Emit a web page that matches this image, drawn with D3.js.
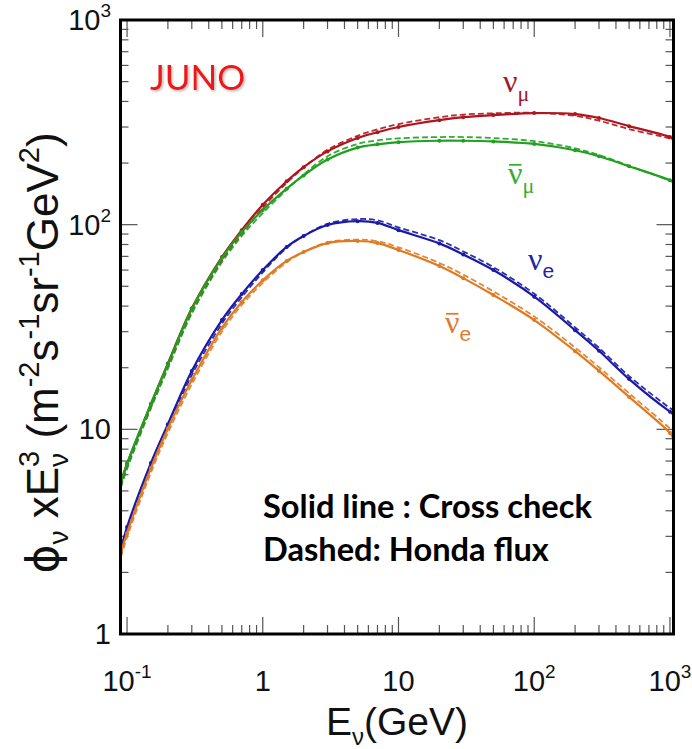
<!DOCTYPE html>
<html>
<head>
<meta charset="utf-8">
<script src="https://cdn.jsdelivr.net/npm/d3@7"></script>
<style>
  body { margin: 0; background: #fff; }
  svg { display: block; }
  text { white-space: pre; }
</style>
</head>
<body>
<svg id="chart" width="692" height="749"></svg>
<script>
// Neutrino energies (GeV) at which each flux is sampled
const energies = [0.09, 0.1, 0.15, 0.2, 0.3, 0.5, 0.7, 1, 1.5, 2, 3, 5, 7, 10, 20, 30, 50, 100, 200, 300, 500, 1000, 1060];

// phi x E^3 (m^-2 s^-1 sr^-1 GeV^2) — cross-check calculation (solid)
const numuCross    = [5.5, 6.8, 13.3, 21.0, 39, 69.5, 94, 125, 163, 191, 228, 265, 283, 300, 324, 335, 343, 351, 347, 332, 303, 268, 262];
const numubarCross = [5.47, 6.77, 13.3, 20.8, 38.7, 68.7, 92, 118, 150, 174, 208, 238, 247, 253, 257, 257, 255, 248, 231, 216, 193, 165, 162];
const nueCross     = [2.6, 3.33, 6.85, 10.6, 19.3, 34.2, 45.8, 60, 77.8, 88, 99.6, 104, 102, 94, 81, 71.5, 60, 44.5, 30.5, 24.2, 17.6, 12.2, 11.9];
const nuebarCross  = [2.49, 3.11, 6.47, 10.1, 17.4, 31.3, 41.9, 53.5, 66.5, 73.5, 81.3, 83.2, 81.3, 75.2, 62.8, 54.8, 45.3, 34.2, 24.1, 19.3, 14.4, 9.6, 9.07];

// Honda flux (dashed)
const numuHonda    = [5.25, 6.5, 12.8, 20.1, 37.2, 66.5, 90, 121, 160, 190, 232, 272, 292, 310, 335, 345, 350, 352, 340, 322, 293, 263, 258];
const numubarHonda = [5.2, 6.4, 12.7, 19.8, 36.8, 65.5, 88, 114, 148, 176, 216, 248, 258, 264, 268, 268, 265, 256, 236, 219, 194, 164, 161];
const nueHonda     = [2.48, 3.18, 6.5, 10.1, 18.4, 32.8, 44.2, 58.5, 77, 88, 101, 106.5, 105, 97, 84, 74, 62, 46, 31.5, 25, 18.2, 12.7, 12.4];
const nuebarHonda  = [2.38, 2.97, 6.15, 9.6, 16.6, 30, 40.5, 52, 65.5, 73.5, 82, 84.5, 83, 77.5, 65, 57, 47.2, 35.6, 25.1, 20.1, 15.0, 10.1, 9.7];

// Axis ticks and labels: [mantissa, exponent]
const xMajorTicks = [0.1, 1, 10, 100, 1000];
const xTickLabels = [["10", "-1"], ["1", ""], ["10", ""], ["10", "2"], ["10", "3"]];
const yMajorTicks = [1, 10, 100, 1000];
const yTickLabels = [["1", ""], ["10", ""], ["10", "2"], ["10", "3"]];

const series = [
  { key: "numu",    cross: numuCross,    honda: numuHonda,    color: "#b0141c" },
  { key: "numubar", cross: numubarCross, honda: numubarHonda, color: "#1fa01f" },
  { key: "nue",     cross: nueCross,     honda: nueHonda,     color: "#1a1aa6" },
  { key: "nuebar",  cross: nuebarCross,  honda: nuebarHonda,  color: "#e07a22" }
];

const svg = d3.select("#chart");
const plotLeft = 120.5, plotRight = 673.5, plotTop = 20, plotBottom = 634;

const x = d3.scaleLog().domain([0.0895, 1062]).range([plotLeft, plotRight]);
const y = d3.scaleLog().domain([1, 1000]).range([plotBottom, plotTop]);

const SANS = "'Liberation Sans', Arial, sans-serif";
const SERIF = "'Liberation Serif', 'Times New Roman', serif";

// Lay out a run of text pieces (with sub/superscripts) left to right.
function richText(parent, segs, opts) {
  const g = parent.append("g");
  let cursor = 0, prevStart = 0;
  segs.forEach(s => {
    const start = s.stack ? prevStart : cursor;
    const el = g.append("text")
      .attr("x", start).attr("y", s.dy || 0)
      .attr("font-size", s.size)
      .attr("font-family", s.family || opts.family)
      .attr("font-weight", s.weight || opts.weight || "normal")
      .attr("fill", opts.fill || "#000")
      .text(s.t);
    const w = el.node().getComputedTextLength();
    if (s.overline) {
      g.append("line")
        .attr("x1", start + 1).attr("x2", start + w - 1)
        .attr("y1", (s.dy || 0) - s.size * 0.6).attr("y2", (s.dy || 0) - s.size * 0.6)
        .attr("stroke", opts.fill || "#000").attr("stroke-width", 1.8);
    }
    cursor = Math.max(s.stack ? cursor : start, start + w);
    prevStart = start;
  });
  const width = cursor;
  let shift = 0;
  if (opts.anchor === "middle") shift = -width / 2;
  if (opts.anchor === "end") shift = -width;
  g.attr("transform", `translate(${opts.x + shift},${opts.y})`);
  if (opts.rotate) {
    g.attr("transform", `translate(${opts.x},${opts.y}) rotate(${opts.rotate}) translate(${shift},0)`);
  }
  return g;
}

// Minor ticks 2..9 within each decade
function minors(lo, hi) {
  const out = [];
  for (let d = lo; d < hi; d *= 10) for (let k = 2; k <= 9; k++) out.push(k * d);
  return out;
}
const xMinor = minors(0.1, 1000);
const yMinor = minors(1, 1000);

// Inward ticks on all four sides
const tickG = svg.append("g").attr("stroke", "#555").attr("stroke-width", 1.2);
function xTicks(vals, len) {
  vals.forEach(v => {
    tickG.append("line").attr("x1", x(v)).attr("x2", x(v)).attr("y1", plotBottom).attr("y2", plotBottom - len);
    tickG.append("line").attr("x1", x(v)).attr("x2", x(v)).attr("y1", plotTop).attr("y2", plotTop + len);
  });
}
function yTicks(vals, len) {
  vals.forEach(v => {
    tickG.append("line").attr("y1", y(v)).attr("y2", y(v)).attr("x1", plotLeft).attr("x2", plotLeft + len);
    tickG.append("line").attr("y1", y(v)).attr("y2", y(v)).attr("x1", plotRight).attr("x2", plotRight - len);
  });
}
xTicks(xMajorTicks, 17);
xTicks(xMinor, 9);
yTicks(yMajorTicks, 17);
yTicks(yMinor, 8);

// Curves
svg.append("clipPath").attr("id", "plotclip")
  .append("rect").attr("x", plotLeft).attr("y", plotTop)
  .attr("width", plotRight - plotLeft).attr("height", plotBottom - plotTop);
const plot = svg.append("g").attr("clip-path", "url(#plotclip)");

const line = d3.line()
  .x(d => x(d[0]))
  .y(d => y(d[1]))
  .curve(d3.curveCatmullRom.alpha(0.5));

series.forEach(s => {
  const honda = energies.map((e, i) => [e, s.honda[i]]);
  const cross = energies.map((e, i) => [e, s.cross[i]]);
  plot.append("path").datum(honda)
    .attr("d", line).attr("fill", "none")
    .attr("stroke", s.color).attr("stroke-width", 1.8)
    .attr("stroke-dasharray", "6,3").attr("opacity", 0.9);
  plot.append("path").datum(cross)
    .attr("d", line).attr("fill", "none")
    .attr("stroke", s.color).attr("stroke-width", 2.2);
  plot.selectAll(null).data(cross).enter().append("circle")
    .attr("cx", d => x(d[0])).attr("cy", d => y(d[1]))
    .attr("r", 2).attr("fill", s.color);
});

// Frame
svg.append("rect")
  .attr("x", plotLeft).attr("y", plotTop)
  .attr("width", plotRight - plotLeft).attr("height", plotBottom - plotTop)
  .attr("fill", "none").attr("stroke", "#000").attr("stroke-width", 3);

// Tick labels
xMajorTicks.forEach((v, i) => {
  const [m, e] = xTickLabels[i];
  const segs = [{ t: m, size: 29 }];
  if (e) segs.push({ t: e, size: 19, dy: -13 });
  richText(svg, segs, { x: x(v), y: 691, anchor: "middle", family: SANS, fill: "#111" });
});
yMajorTicks.forEach((v, i) => {
  const [m, e] = yTickLabels[i];
  const segs = [{ t: m, size: 29 }];
  if (e) segs.push({ t: e, size: 19, dy: -13 });
  richText(svg, segs, { x: 111, y: y(v) + 10, anchor: "end", family: SANS, fill: "#111" });
});

// Axis titles
richText(svg, [
  { t: "E", size: 39 },
  { t: "\u03BD", size: 24, dy: 10 },
  { t: "(GeV)", size: 39 }
], { x: 397, y: 735, anchor: "middle", family: SANS, fill: "#111" });

richText(svg, [
  { t: "\u03D5", size: 44, family: "'DejaVu Sans', sans-serif" },
  { t: "\u03BD", size: 28, dy: 10 },
  { t: " xE", size: 44 },
  { t: "\u03BD", size: 28, dy: 10 },
  { t: "3", size: 29, dy: -19, stack: true },
  { t: " (m", size: 44 },
  { t: "-2", size: 29, dy: -19 },
  { t: "s", size: 44 },
  { t: "-1", size: 29, dy: -19 },
  { t: "sr", size: 44 },
  { t: "-1", size: 29, dy: -19 },
  { t: "GeV", size: 44 },
  { t: "2", size: 29, dy: -19 },
  { t: ")", size: 44 }
], { x: 58, y: 353, anchor: "middle", rotate: -90, family: SANS, fill: "#111" });

// Experiment tag with a soft drop shadow
const defs = svg.append("defs");
const shadow = defs.append("filter").attr("id", "tagshadow")
  .attr("x", "-10%").attr("y", "-10%").attr("width", "130%").attr("height", "140%");
shadow.append("feDropShadow").attr("dx", 1.5).attr("dy", 1.5)
  .attr("stdDeviation", 1).attr("flood-color", "#888").attr("flood-opacity", 0.6);
svg.append("text").attr("x", 150).attr("y", 90)
  .attr("font-family", "Lato, 'Open Sans', sans-serif").attr("font-size", 35)
  .attr("fill", "#f01818").attr("filter", "url(#tagshadow)").text("JUNO");

// Curve labels
richText(svg, [{ t: "\u03BD", size: 32 }, { t: "\u03BC", size: 22, dy: 9 }],
  { x: 503, y: 92, family: SERIF, fill: "#a3172a" });
richText(svg, [{ t: "\u03BD", size: 32, overline: true }, { t: "\u03BC", size: 22, dy: 9 }],
  { x: 508, y: 184, family: SERIF, fill: "#35ad35" });
richText(svg, [{ t: "\u03BD", size: 32 }, { t: "e", size: 21, dy: 8, family: SANS }],
  { x: 528, y: 270, family: SERIF, fill: "#2424a4" });
richText(svg, [{ t: "\u03BD", size: 32, overline: true }, { t: "e", size: 21, dy: 8, family: SANS }],
  { x: 445, y: 333, family: SERIF, fill: "#e07a2e" });

// Line-style note, sized to span its box
const note = svg.append("g")
  .attr("font-family", "Lato, 'Open Sans', sans-serif")
  .attr("font-weight", "bold").attr("fill", "#000");
const n1 = note.append("text").attr("x", 263).attr("y", 518).attr("font-size", 26).text("Solid line : Cross check");
const n2 = note.append("text").attr("x", 263).attr("y", 561).attr("font-size", 26).text("Dashed: Honda flux");
const noteSize = 26 * 329 / n1.node().getComputedTextLength();
n1.attr("font-size", noteSize);
n2.attr("font-size", noteSize);
</script>
</body>
</html>
